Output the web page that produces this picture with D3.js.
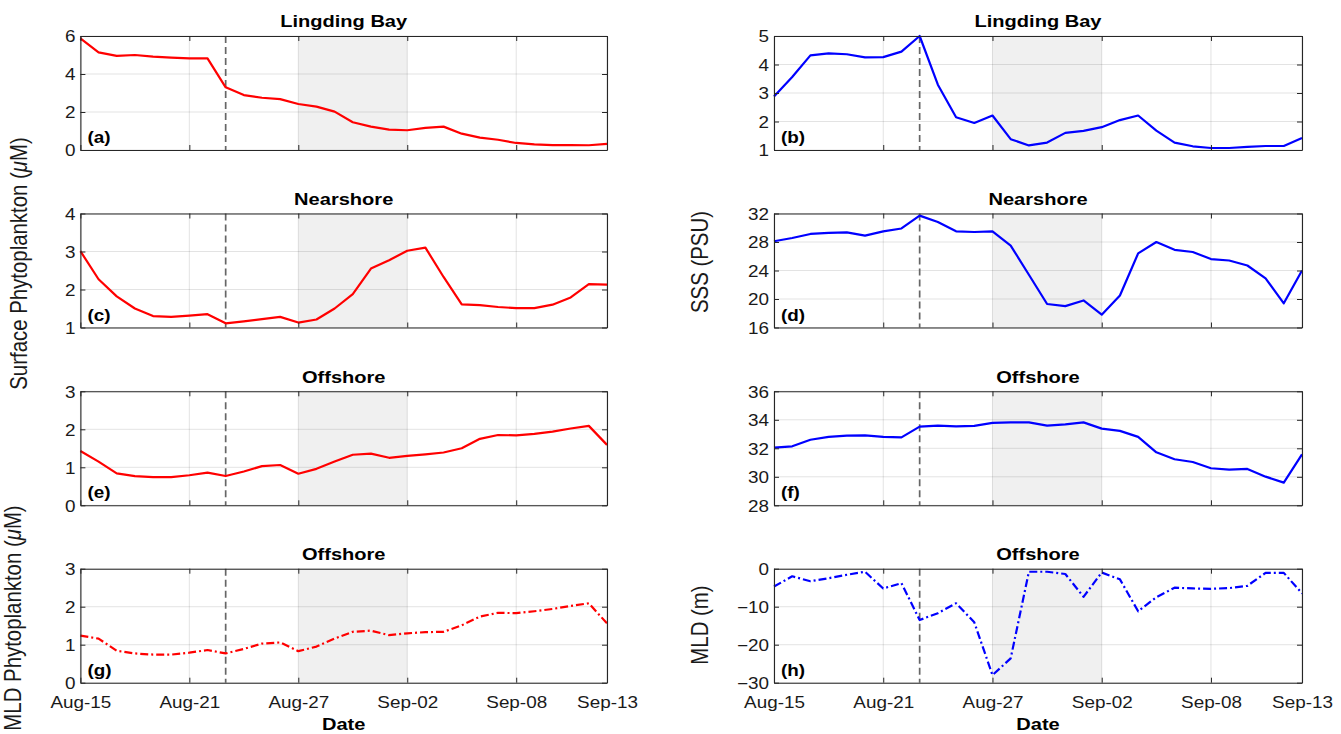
<!DOCTYPE html>
<html>
<head>
<meta charset="utf-8">
<script src="https://cdn.jsdelivr.net/npm/d3@7"></script>
<style>
  html, body { margin: 0; padding: 0; background: #fff; }
  svg { display: block; font-family: Arial, "Liberation Sans", Helvetica, sans-serif; }
</style>
</head>
<body>
<svg id="chart" width="1341" height="734"></svg>
<script>
// ---------------- data ----------------
const dates = ["2018-08-15","2018-08-16","2018-08-17","2018-08-18","2018-08-19","2018-08-20",
  "2018-08-21","2018-08-22","2018-08-23","2018-08-24","2018-08-25","2018-08-26","2018-08-27",
  "2018-08-28","2018-08-29","2018-08-30","2018-08-31","2018-09-01","2018-09-02","2018-09-03",
  "2018-09-04","2018-09-05","2018-09-06","2018-09-07","2018-09-08","2018-09-09","2018-09-10",
  "2018-09-11","2018-09-12","2018-09-13"];
const tickDates = ["2018-08-15","2018-08-21","2018-08-27","2018-09-02","2018-09-08","2018-09-13"];
const tickLabels = ["Aug-15","Aug-21","Aug-27","Sep-02","Sep-08","Sep-13"];
const eventDate = "2018-08-23";
const shadeStart = "2018-08-27";
const shadeEnd = "2018-09-02";

// (a) surface phytoplankton, Lingding Bay
const phytoLingding = [5.88,5.14,4.95,5.0,4.91,4.86,4.82,4.82,3.3,2.89,2.75,2.68,2.42,2.28,2.02,
  1.46,1.23,1.07,1.04,1.16,1.23,0.86,0.65,0.54,0.37,0.3,0.26,0.26,0.25,0.32];
// (b) SSS, Lingding Bay
const sssLingding = [2.88,3.56,4.32,4.39,4.36,4.25,4.26,4.45,5.0,3.29,2.15,1.95,2.21,1.38,1.16,
  1.26,1.6,1.67,1.8,2.05,2.21,1.68,1.26,1.13,1.07,1.07,1.11,1.14,1.14,1.42];
// (c) surface phytoplankton, Nearshore
const phytoNearshore = [3.01,2.27,1.82,1.5,1.3,1.28,1.31,1.35,1.11,1.16,1.22,1.28,1.13,1.21,1.5,
  1.88,2.55,2.77,3.02,3.1,2.33,1.61,1.59,1.54,1.51,1.51,1.6,1.79,2.14,2.13];
// (d) SSS, Nearshore
const sssNearshore = [28.1,28.56,29.13,29.27,29.36,28.9,29.5,29.9,31.7,30.8,29.5,29.4,29.5,27.5,23.4,
  19.3,19.0,19.8,17.8,20.5,26.4,28.0,26.9,26.6,25.6,25.4,24.7,22.9,19.4,24.0];
// (e) surface phytoplankton, Offshore
const phytoOffshore = [1.43,1.15,0.84,0.77,0.74,0.74,0.79,0.86,0.77,0.89,1.03,1.06,0.83,0.96,1.15,
  1.33,1.36,1.25,1.3,1.34,1.39,1.5,1.75,1.85,1.84,1.88,1.94,2.02,2.09,1.59];
// (f) SSS, Offshore
const sssOffshore = [32.05,32.14,32.6,32.8,32.89,32.91,32.8,32.77,33.52,33.59,33.54,33.57,33.78,33.82,33.82,
  33.59,33.68,33.82,33.38,33.22,32.8,31.72,31.23,31.04,30.6,30.5,30.55,30.01,29.59,31.58];
// (g) MLD phytoplankton, Offshore
const mldPhytoOffshore = [1.24,1.16,0.84,0.77,0.74,0.74,0.79,0.86,0.77,0.89,1.03,1.06,0.83,0.95,1.16,
  1.34,1.37,1.25,1.3,1.33,1.34,1.51,1.74,1.84,1.83,1.88,1.94,2.02,2.09,1.56];
// (h) MLD, Offshore
const mldOffshore = [-4.7,-2.0,-3.3,-2.5,-1.6,-0.8,-5.2,-3.8,-13.5,-11.7,-9.1,-14.1,-28.0,-23.6,-0.8,
  -0.8,-1.4,-7.4,-1.0,-2.8,-11.2,-7.5,-5.0,-5.2,-5.3,-5.1,-4.5,-1.1,-1.1,-6.5];

const yTicksA = [0,2,4,6];
const yTicksB = [1,2,3,4,5];
const yTicksC = [1,2,3,4];
const yTicksD = [16,20,24,28,32];
const yTicksE = [0,1,2,3];
const yTicksF = [28,30,32,34,36];
const yTicksG = [0,1,2,3];
const yTicksH = [-30,-20,-10,0];

const titles = ["Lingding Bay","Lingding Bay","Nearshore","Nearshore","Offshore","Offshore","Offshore","Offshore"];
const panelLabels = ["(a)","(b)","(c)","(d)","(e)","(f)","(g)","(h)"];

// ---------------- layout ----------------
const parse = d3.timeParse("%Y-%m-%d");
const svg = d3.select("#chart");
const colX = [[80.4, 607], [774, 1302]];
const rowTop = [36, 213.5, 391.3, 568.7];
const panelH = 114;
const FONT = 'Arial, "Liberation Sans", Helvetica, sans-serif';
const axisColor = "#262626";
const SX = 1.18; // horizontal stretch of the reference lettering

// place a text element at (x, y) with horizontal stretch
function stretchText(sel, x, y, extra) {
  sel.attr("x", 0).attr("y", 0)
    .attr("transform", `translate(${x},${y}) scale(${SX},1)` + (extra || ""));
}

const panels = [
  {vals: phytoLingding,   ticks: yTicksA, col: 0, row: 0, color: "#ff0000", dash: null},
  {vals: sssLingding,     ticks: yTicksB, col: 1, row: 0, color: "#0000ff", dash: null},
  {vals: phytoNearshore,  ticks: yTicksC, col: 0, row: 1, color: "#ff0000", dash: null},
  {vals: sssNearshore,    ticks: yTicksD, col: 1, row: 1, color: "#0000ff", dash: null},
  {vals: phytoOffshore,   ticks: yTicksE, col: 0, row: 2, color: "#ff0000", dash: null},
  {vals: sssOffshore,     ticks: yTicksF, col: 1, row: 2, color: "#0000ff", dash: null},
  {vals: mldPhytoOffshore,ticks: yTicksG, col: 0, row: 3, color: "#ff0000", dash: "8,3,2,3"},
  {vals: mldOffshore,     ticks: yTicksH, col: 1, row: 3, color: "#0000ff", dash: "8,3,2,3"}
];

panels.forEach((p, i) => {
  const [x0, x1] = colX[p.col];
  const w = x1 - x0, h = panelH;
  const g = svg.append("g").attr("transform", `translate(${x0},${rowTop[p.row]})`);
  const x = d3.scaleTime().domain([parse(dates[0]), parse(dates[dates.length - 1])]).range([0, w]);
  const y = d3.scaleLinear().domain([p.ticks[0], p.ticks[p.ticks.length - 1]]).range([h, 0]);
  const tDates = tickDates.map(parse);

  // shaded period
  g.append("rect")
    .attr("x", x(parse(shadeStart))).attr("y", 0)
    .attr("width", x(parse(shadeEnd)) - x(parse(shadeStart))).attr("height", h)
    .attr("fill", "#f0f0f0");

  // grid
  g.append("g").selectAll("line").data(tDates).join("line")
    .attr("x1", d => x(d)).attr("x2", d => x(d)).attr("y1", 0).attr("y2", h)
    .attr("stroke", "#262626").attr("stroke-opacity", 0.13).attr("stroke-width", 1);
  g.append("g").selectAll("line").data(p.ticks).join("line")
    .attr("x1", 0).attr("x2", w).attr("y1", d => y(d)).attr("y2", d => y(d))
    .attr("stroke", "#262626").attr("stroke-opacity", 0.13).attr("stroke-width", 1);

  // event line
  g.append("line")
    .attr("x1", x(parse(eventDate))).attr("x2", x(parse(eventDate)))
    .attr("y1", 0).attr("y2", h)
    .attr("stroke", "#666666").attr("stroke-width", 1.7).attr("stroke-dasharray", "7,4");

  // data line
  const line = d3.line().x((d, k) => x(parse(dates[k]))).y(d => y(d));
  g.append("path").datum(p.vals)
    .attr("d", line).attr("fill", "none")
    .attr("stroke", p.color).attr("stroke-width", 2.2)
    .attr("stroke-linejoin", "round")
    .attr("stroke-dasharray", p.dash);

  // axes (inward ticks)
  const styleAxis = sel => {
    sel.select(".domain").attr("stroke", axisColor).attr("stroke-width", 1.1);
    sel.selectAll(".tick line").attr("stroke", axisColor);
    sel.selectAll("text").attr("fill", "#1a1a1a").style("font-family", FONT).style("font-size", "16px");
  };
  const isBottom = p.row === 3;
  const xb = g.append("g").attr("transform", `translate(0,${h})`)
    .call(d3.axisBottom(x).tickValues(tDates).tickSizeInner(-5).tickSizeOuter(0)
      .tickFormat((d, k) => isBottom ? tickLabels[k] : ""));
  styleAxis(xb);
  xb.selectAll(".tick text").each(function () { stretchText(d3.select(this), 0, 14); });
  const xt = g.append("g")
    .call(d3.axisTop(x).tickValues(tDates).tickSizeInner(-5).tickSizeOuter(0).tickFormat(""));
  styleAxis(xt);
  const yl = g.append("g")
    .call(d3.axisLeft(y).tickValues(p.ticks).tickSizeInner(-5).tickSizeOuter(0)
      .tickFormat(d3.format("d")));
  styleAxis(yl);
  yl.selectAll(".tick text").attr("dy", "0.36em")
    .each(function () { stretchText(d3.select(this), -5, 0); });
  const yr = g.append("g").attr("transform", `translate(${w},0)`)
    .call(d3.axisRight(y).tickValues(p.ticks).tickSizeInner(-5).tickSizeOuter(0).tickFormat(""));
  styleAxis(yr);

  // title
  g.append("text").attr("text-anchor", "middle").attr("font-weight", "bold")
    .attr("font-size", 17).attr("fill", "#000").text(titles[i])
    .call(s => stretchText(s, w / 2, -8.7));

  // panel label
  g.append("text").attr("font-weight", "bold").attr("font-size", 16).attr("fill", "#000")
    .text(panelLabels[i])
    .call(s => stretchText(s, 7, h - 7));
});

// axis labels (rotated, stretched across their thickness)
function yLabel(xpos, ycenter, size, parts) {
  const t = svg.append("text")
    .attr("transform", `translate(${xpos},${ycenter}) scale(${SX},1) rotate(-90)`)
    .attr("text-anchor", "middle").attr("font-size", size).attr("fill", "#1a1a1a");
  parts.forEach(pt => {
    const ts = t.append("tspan").text(pt.t);
    if (pt.italic) ts.attr("font-style", "italic");
  });
}
yLabel(27, 263.5, 20.4, [{t: "Surface Phytoplankton ("}, {t: "\u03bc", italic: true}, {t: "M)"}]);
yLabel(21, 618, 20.4, [{t: "MLD Phytoplankton ("}, {t: "\u03bc", italic: true}, {t: "M)"}]);
yLabel(708, 262, 20.4, [{t: "SSS (PSU)"}]);
yLabel(708, 625, 20.4, [{t: "MLD (m)"}]);

[0, 1].forEach(c => {
  svg.append("text").attr("text-anchor", "middle").attr("font-weight", "bold")
    .attr("font-size", 17).attr("fill", "#000").text("Date")
    .call(s => stretchText(s, (colX[c][0] + colX[c][1]) / 2, 730));
});
</script>
</body>
</html>
